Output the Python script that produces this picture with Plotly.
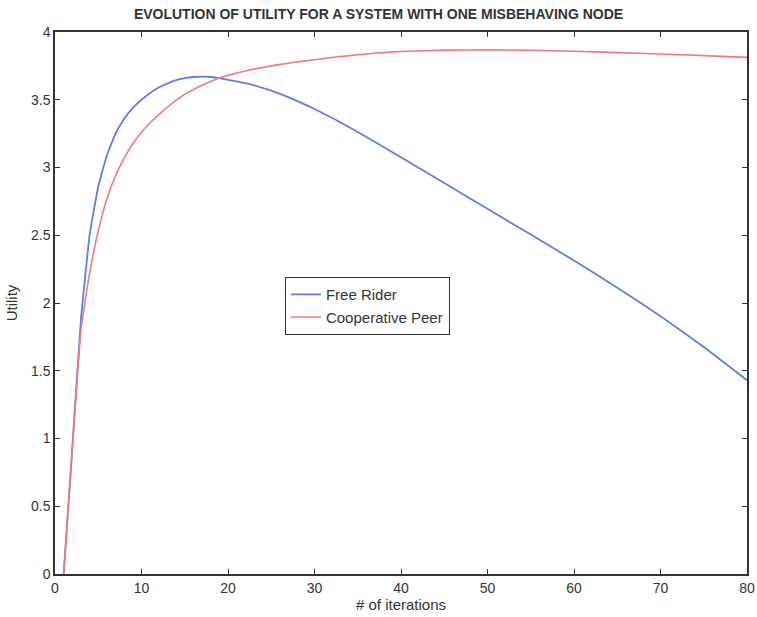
import plotly.graph_objects as go

iters = [1, 2, 3, 4, 5, 6, 7, 8, 9, 10, 11, 12, 13, 14, 15, 16, 17, 18, 19, 20,
         22.5, 25, 27.5, 30, 32.5, 35, 37.5, 40, 45, 50, 55, 60, 65, 70, 75, 80]
free_rider = [0.0, 0.93, 1.88, 2.5, 2.86, 3.09, 3.25, 3.36, 3.44, 3.5, 3.55, 3.59, 3.62, 3.645, 3.66, 3.668, 3.671, 3.668, 3.66, 3.647,
              3.615, 3.567, 3.505, 3.432, 3.35, 3.262, 3.17, 3.075, 2.885, 2.695, 2.505, 2.313, 2.113, 1.903, 1.675, 1.43]
coop_peer = [0.0, 0.92, 1.8, 2.22, 2.53, 2.77, 2.94, 3.07, 3.175, 3.26, 3.33, 3.39, 3.445, 3.495, 3.54, 3.575, 3.607, 3.635, 3.66, 3.68,
             3.72, 3.75, 3.775, 3.795, 3.815, 3.832, 3.846, 3.856, 3.866, 3.868, 3.865, 3.858, 3.848, 3.838, 3.826, 3.813]

FONT = "Liberation Sans, Arial"

fig = go.Figure()
fig.add_trace(go.Scatter(x=iters, y=free_rider, mode="lines", name="Free Rider",
                         line=dict(color="#5b7fe6", width=1.8, shape="spline", smoothing=0.35)))
fig.add_trace(go.Scatter(x=iters, y=coop_peer, mode="lines", name="Cooperative Peer",
                         line=dict(color="#f07a80", width=1.6, shape="spline", smoothing=0.35)))

axis_common = dict(showgrid=False, zeroline=False, showline=True, linecolor="#333333", linewidth=1.5,
                   mirror="ticks", ticks="inside", ticklen=5, tickcolor="#333333", automargin=False,
                   tickfont=dict(family=FONT, size=14, color="#333333"))

fig.update_xaxes(range=[0, 80], dtick=10, tick0=0,
                 title=dict(text="# of iterations", standoff=2,
                            font=dict(family=FONT, size=15, color="#333333")),
                 **axis_common)
fig.update_yaxes(range=[0, 4], dtick=0.5, tick0=0,
                 title=dict(text="Utility", standoff=10,
                            font=dict(family=FONT, size=15, color="#333333")),
                 **axis_common)

fig.update_layout(
    width=757, height=617,
    margin=dict(l=55, r=10, t=32, b=43),
    paper_bgcolor="white", plot_bgcolor="white",
    title=dict(text="<b>EVOLUTION OF UTILITY FOR A SYSTEM WITH ONE MISBEHAVING NODE</b>",
               x=0.5, xref="container", xanchor="center", y=0.977, yanchor="middle",
               font=dict(family=FONT, size=14, color="#333333")),
    legend=dict(x=0.332, y=0.548, xanchor="left", yanchor="top",
                bgcolor="white", bordercolor="#333333", borderwidth=1.2,
                font=dict(family=FONT, size=15, color="#333333"),
                tracegroupgap=0, itemwidth=30),
    showlegend=True,
)

fig.write_html("out.html")
